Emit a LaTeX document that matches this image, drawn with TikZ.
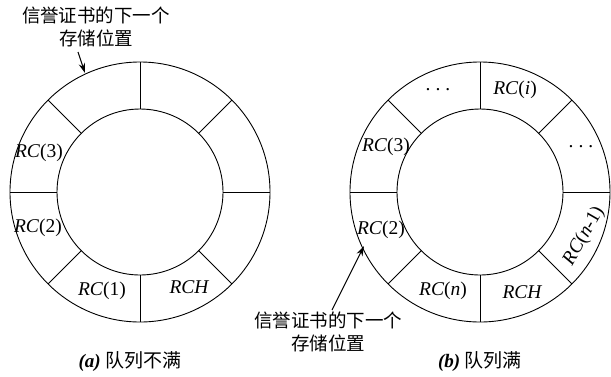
\documentclass[tikz,border=0pt]{standalone}
\usepackage{fontspec}
\setmainfont{Liberation Serif}
\newfontfamily\cjk{Noto Sans CJK SC}
\usetikzlibrary{arrows.meta,calc}
\begin{document}
\begin{tikzpicture}[x=1pt,y=1pt,
  ring/.style={line width=0.9pt},
  lbl/.style={font=\fontsize{19.5}{19.5}\selectfont\itshape, inner sep=0pt},
  note/.style={font=\fontsize{18.5}{23}\selectfont\cjk, align=center, inner sep=0pt},
  captext/.style={font=\fontsize{19}{20}\selectfont, inner sep=0pt},
  pointer/.style={line width=1.1pt, -{Stealth[length=10pt,width=6.5pt]}}]
\useasboundingbox (0,0) rectangle (611,-376);
% ---- left ring
\coordinate (ca) at (140,-192);
\draw[ring] (ca) circle[radius=130];
\draw[ring] (ca) circle[radius=83];
\foreach \a in {0,45,...,315}
  \draw[ring] ($(ca)+(\a:83)$) -- ($(ca)+(\a:130)$);
\node[lbl] (a3) at (39,-153) {RC\textup{(3)}};
\node[lbl] (a2) at (38,-228) {RC\textup{(2)}};
\node[lbl] (a1) at (102,-291) {RC\textup{(1)}};
\node[lbl] (ah) at (189,-287) {RCH};
\node[note] (na) at (96,-27) {信誉证书的下一个\\存储位置};
\coordinate (ta) at (85,-73);
\draw[pointer] (78,-52) -- (ta);
% ---- right ring
\coordinate (cb) at (480,-192);
\draw[ring] (cb) circle[radius=130];
\draw[ring] (cb) circle[radius=83];
\foreach \a in {0,45,...,315}
  \draw[ring] ($(cb)+(\a:83)$) -- ($(cb)+(\a:130)$);
\node[lbl] (bd1) at (438,-90) {\upshape .\hspace{5pt}.\hspace{5pt}.};
\node[lbl] (bi) at (515,-90) {RC\textup{(}i\textup{)}};
\node[lbl] (bd2) at (581,-147) {\upshape .\hspace{5pt}.\hspace{5pt}.};
\node[lbl, rotate=60] (bn1) at (584,-236) {RC\textup{(}n\textup{-1)}};
\node[lbl] (bh) at (522,-292) {RCH};
\node[lbl] (bn) at (443,-291) {RC\textup{(}n\textup{)}};
\node[lbl] (b2) at (381,-230) {RC\textup{(2)}};
\node[lbl] (b3) at (386,-147) {RC\textup{(3)}};
\node[note] (nb) at (328,-332) {信誉证书的下一个\\存储位置};
\coordinate (tb) at (364,-246);
\draw[pointer] (332,-310) -- (tb);
% ---- captions
\node[captext] (capa) at (130,-362) {\textbf{\textit{(a)}} {\cjk 队列不满}};
\node[captext] (capb) at (480,-362) {\textbf{\textit{(b)}} {\cjk 队列满}};
\end{tikzpicture}
\end{document}
